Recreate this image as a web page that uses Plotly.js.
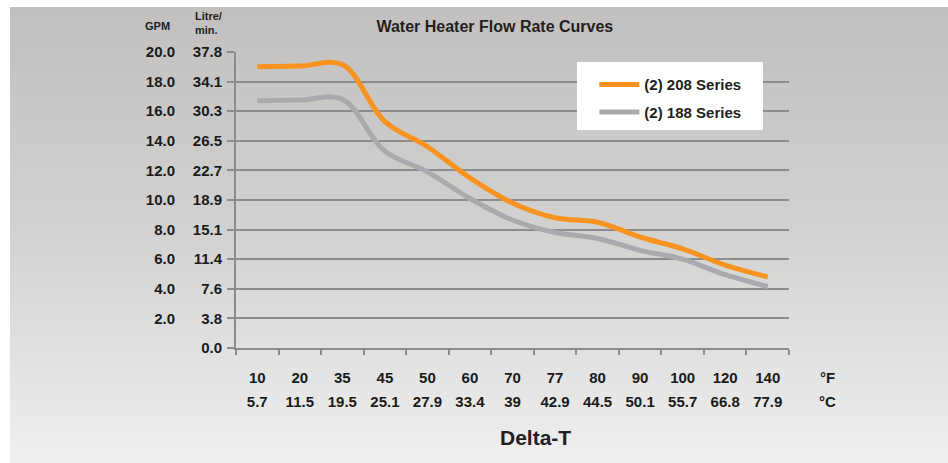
<!DOCTYPE html>
<html>
<head>
<meta charset="utf-8">
<script src="https://cdn.plot.ly/plotly-3.0.1.min.js"></script>
<style>
  html, body { margin:0; padding:0; background:#ffffff; }
  #wrap { position:relative; width:948px; height:463px; background:#ffffff; overflow:hidden; }
  #bg { position:absolute; left:10px; top:7px; right:0; bottom:0;
        background:linear-gradient(to bottom, #c1c0bf 0%, #d2d2d1 50%, #efefef 100%); }
  #chart { position:absolute; left:0; top:0; width:948px; height:463px; }
</style>
</head>
<body>
<div id="wrap"><div id="bg"></div><div id="chart"></div></div>
<script>
// Categories (Delta-T)
const deltaF = ['10','20','35','45','50','60','70','77','80','90','100','120','140'];
const deltaC = ['5.7','11.5','19.5','25.1','27.9','33.4','39','42.9','44.5','50.1','55.7','66.8','77.9'];

// Flow rates in GPM
const series208 = [19.0, 19.05, 19.15, 15.3, 13.6, 11.5, 9.8, 8.8, 8.5, 7.5, 6.7, 5.6, 4.8];
const series188 = [16.7, 16.75, 16.8, 13.3, 11.9, 10.1, 8.65, 7.8, 7.4, 6.6, 6.0, 4.95, 4.15];

// Y tick labels
const gpmTickVals = [0, 2, 4, 6, 8, 10, 12, 14, 16, 18, 20];
const gpmTickText = ['', '2.0', '4.0', '6.0', '8.0', '10.0', '12.0', '14.0', '16.0', '18.0', '20.0'];
const litreTickText = ['0.0', '3.8', '7.6', '11.4', '15.1', '18.9', '22.7', '26.5', '30.3', '34.1', '37.8'];

const gridCol = '#8c8c8c';
const tickFont = {family: '"Liberation Sans Narrow", "Arial Narrow", Arial, sans-serif', size: 15, color: '#1a1a1a', weight: 'bold'};

const traces = [
  {x: deltaF, y: series208, name: '(2) 208 Series', type: 'scatter', mode: 'lines',
   line: {color: '#f7931e', width: 5, shape: 'spline', smoothing: 1}, legendgroup: 'a'},
  {x: deltaF, y: series188, name: '(2) 188 Series', type: 'scatter', mode: 'lines',
   line: {color: '#a9aaad', width: 5, shape: 'spline', smoothing: 1}, legendgroup: 'b'},
  // empty helper traces so the secondary label axes are drawn
  {x: [], y: [], xaxis: 'x2', yaxis: 'y', type: 'scatter', mode: 'lines', showlegend: false, hoverinfo: 'skip'},
  {x: [], y: [], xaxis: 'x', yaxis: 'y2', type: 'scatter', mode: 'lines', showlegend: false, hoverinfo: 'skip'}
];

const layout = {
  width: 948, height: 463,
  margin: {l: 236, r: 159, t: 52, b: 115},
  paper_bgcolor: 'rgba(0,0,0,0)',
  plot_bgcolor: 'rgba(0,0,0,0)',
  font: {family: 'Arial, "Liberation Sans", sans-serif', color: '#231f20'},
  title: {text: '<b>Water Heater Flow Rate Curves</b>', font: {size: 16, color: '#231f20'},
          xref: 'container', yref: 'container', x: 0.522, xanchor: 'center', y: 0.942, yanchor: 'middle'},
  xaxis: {
    type: 'category', categoryarray: deltaF, range: [-0.5, 12.5],
    showline: true, linecolor: gridCol, linewidth: 2,
    ticks: 'outside', tickson: 'boundaries', ticklen: 5, tickcolor: gridCol, tickwidth: 2,
    showgrid: false, zeroline: false,
    tickfont: tickFont, ticklabelstandoff: 15
  },
  xaxis2: {
    type: 'linear', overlaying: 'x', anchor: 'y', side: 'bottom',
    range: [-0.5, 12.5], tickmode: 'array',
    tickvals: deltaC.map((_, i) => i), ticktext: deltaC,
    showline: false, showgrid: false, zeroline: false, ticks: '',
    tickfont: tickFont, ticklabelstandoff: 43
  },
  yaxis: {
    range: [0, 20], tickmode: 'array', tickvals: gpmTickVals, ticktext: litreTickText,
    showline: true, linecolor: gridCol, linewidth: 2,
    ticks: 'outside', ticklen: 7, tickcolor: gridCol, tickwidth: 2,
    showgrid: true, gridcolor: gridCol, gridwidth: 2, zeroline: false,
    tickfont: tickFont, ticklabelstandoff: 2
  },
  yaxis2: {
    range: [0, 20], overlaying: 'y', anchor: 'x', side: 'left',
    tickmode: 'array', tickvals: gpmTickVals, ticktext: gpmTickText,
    showline: false, showgrid: false, zeroline: false, ticks: '',
    tickfont: tickFont, ticklabelstandoff: 60
  },
  showlegend: true,
  legend: {
    x: 0.648, xanchor: 'left', y: 0.945, yanchor: 'top',
    bgcolor: 'rgba(0,0,0,0)', borderwidth: 0, itemwidth: 40,
    font: {size: 15, color: '#231f20', weight: 'bold'},
    tracegroupgap: 5, traceorder: 'grouped'
  },
  shapes: [
    {type: 'rect', xref: 'paper', yref: 'paper', x0: 0.6166, x1: 0.953, y0: 0.7365, y1: 0.966,
     fillcolor: '#ffffff', line: {width: 0}, layer: 'above'}
  ],
  annotations: [
    {text: '<b>GPM</b>', xref: 'paper', yref: 'paper', x: -0.1415, y: 1.089, showarrow: false,
     font: {size: 11, color: '#231f20'}, xanchor: 'center', yanchor: 'middle'},
    {text: '<b>Litre/<br>min.</b>', xref: 'paper', yref: 'paper', x: -0.077, y: 1.098, showarrow: false,
     font: {size: 11, color: '#231f20'}, xanchor: 'left', yanchor: 'middle', align: 'left'},
    {text: '°F', xref: 'paper', yref: 'paper', x: 1.0705, y: -0.101, showarrow: false,
     font: tickFont, xanchor: 'center', yanchor: 'middle'},
    {text: '°C', xref: 'paper', yref: 'paper', x: 1.0705, y: -0.182, showarrow: false,
     font: tickFont, xanchor: 'center', yanchor: 'middle'},
    {text: '<b>Delta-T</b>', xref: 'paper', yref: 'paper', x: 0.5407, y: -0.304, showarrow: false,
     font: {size: 21, color: '#231f20'}, xanchor: 'center', yanchor: 'middle'}
  ]
};

Plotly.newPlot('chart', traces, layout, {displayModeBar: false, staticPlot: true});
</script>
</body>
</html>
